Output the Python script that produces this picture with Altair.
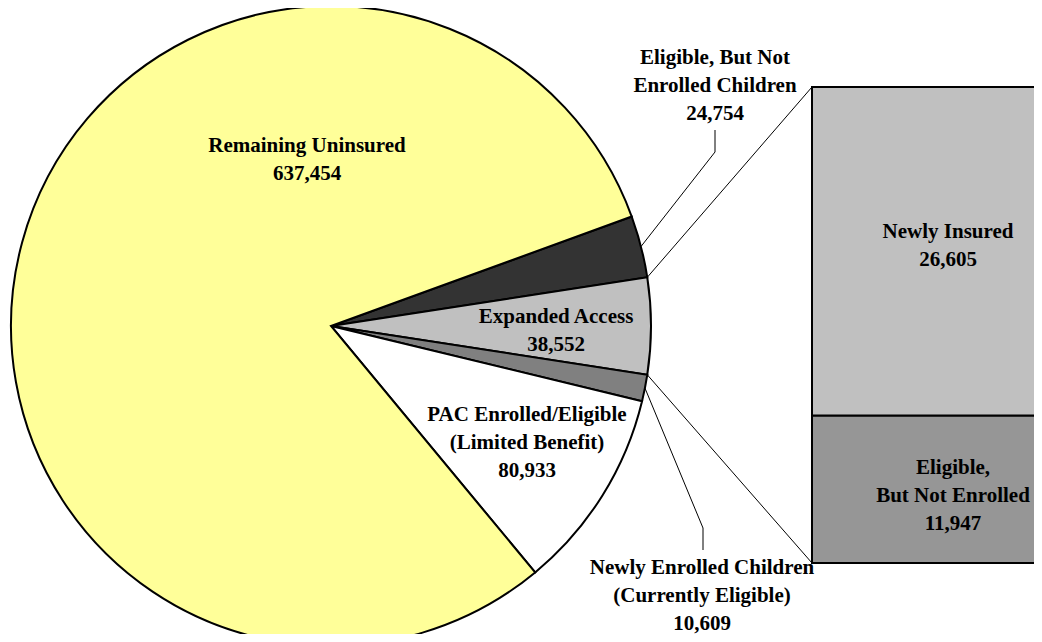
import math
import altair as alt
import pandas as pd

# ---- data ----
pie_labels = [
    "Eligible, But Not Enrolled Children",
    "Expanded Access",
    "Newly Enrolled Children (Currently Eligible)",
    "PAC Enrolled/Eligible (Limited Benefit)",
    "Remaining Uninsured",
]
pie_values = [24754, 38552, 10609, 80933, 637454]
pie_colors = ["#333333", "#C0C0C0", "#808080", "#FFFFFF", "#FFFF99"]

bar_labels = ["Eligible, But Not Enrolled", "Newly Insured"]
bar_values = [11947, 26605]
bar_colors = ["#969696", "#C0C0C0"]

# ---- layout ----
W, H = 1026, 626
CX, CY, R = 323, 318, 320
START = math.radians(70)
BAR_X0, BAR_X1 = 804, 1080
BAR_TOP, BAR_BOT = 79, 555
FONT = "Liberation Serif"
FS = 21
LH = 28

pie_df = pd.DataFrame({"cat": pie_labels, "value": pie_values, "idx": range(len(pie_values))})
bar_df = pd.DataFrame({"cat": bar_labels, "value": bar_values, "idx": range(len(bar_values))})

total = sum(pie_values)
cum = [0]
for v in pie_values:
    cum.append(cum[-1] + v)


def edge_point(frac):
    a = START + 2 * math.pi * frac
    return CX + R * math.sin(a), CY - R * math.cos(a)


pie = alt.Chart(pie_df).mark_arc(radius=R, stroke="black", strokeWidth=2).encode(
    theta=alt.Theta("value:Q", stack=True,
                    scale=alt.Scale(range=[START, START + 2 * math.pi])),
    color=alt.Color("cat:N", scale=alt.Scale(domain=pie_labels, range=pie_colors), legend=None),
    order=alt.Order("idx:Q"),
    x=alt.value(CX),
    y=alt.value(CY),
)

bar = alt.Chart(bar_df).transform_stack(
    stack="value", groupby=[], as_=["y0", "y1"], sort=[alt.SortField("idx", order="ascending")]
).mark_rect(stroke="black", strokeWidth=2).encode(
    y=alt.Y("y0:Q", scale=alt.Scale(domain=[0, sum(bar_values)], range=[BAR_BOT, BAR_TOP]), axis=None),
    y2="y1:Q",
    color=alt.Color("cat:N", scale=alt.Scale(domain=bar_labels, range=bar_colors), legend=None),
    x=alt.value(BAR_X0),
    x2=alt.value(BAR_X1),
)

# connector lines from the Expanded Access slice to the bar corners
ea_i = pie_labels.index("Expanded Access")
p_top = edge_point(cum[ea_i] / total)
p_bot = edge_point(cum[ea_i + 1] / total)
conn_df = pd.DataFrame({
    "x": [p_top[0], p_bot[0]], "y": [p_top[1], p_bot[1]],
    "x2": [BAR_X0, BAR_X0], "y2": [BAR_TOP, BAR_BOT],
})
connectors = alt.Chart(conn_df).mark_rule(color="black", strokeWidth=1).encode(
    x=alt.X("x:Q", scale=None), y=alt.Y("y:Q", scale=None),
    x2="x2:Q", y2="y2:Q",
)


# leader lines for the two small slices
def mid_frac(i):
    return (cum[i] + cum[i + 1]) / 2 / total


a = edge_point(mid_frac(0))
b = edge_point(mid_frac(2))
lead_df = pd.DataFrame({
    "g": ["a", "a", "a", "b", "b", "b"],
    "o": [0, 1, 2, 0, 1, 2],
    "x": [a[0], 707, 707, b[0], 695, 695],
    "y": [a[1], 144, 122, b[1], 520, 542],
})
leaders = alt.Chart(lead_df).mark_line(color="black", strokeWidth=1).encode(
    x=alt.X("x:Q", scale=None), y=alt.Y("y:Q", scale=None),
    detail="g:N", order="o:Q",
)


def fmt(v):
    return f"{v:,}"


def label(lines, x, y):
    return alt.Chart(pd.DataFrame({"t": ["\n".join(lines)]})).mark_text(
        font=FONT, fontSize=FS, fontWeight="bold", color="black",
        lineBreak="\n", lineHeight=LH, align="center", baseline="middle",
    ).encode(text="t:N", x=alt.value(x), y=alt.value(y))


texts = [
    label(["Remaining Uninsured", fmt(pie_values[4])], 299, 138),
    label(["Eligible, But Not", "Enrolled Children", fmt(pie_values[0])], 707, 50),
    label(["Expanded Access", fmt(pie_values[1])], 548, 309),
    label(["PAC Enrolled/Eligible", "(Limited Benefit)", fmt(pie_values[3])], 519, 407),
    label(["Newly Enrolled Children", "(Currently Eligible)", fmt(pie_values[2])], 694, 560),
    label(["Newly Insured", fmt(bar_values[1])], 940, 224),
    label(["Eligible,", "But Not Enrolled", fmt(bar_values[0])], 945, 460),
]

chart = alt.layer(pie, bar, connectors, leaders, *texts).resolve_scale(
    color="independent", theta="independent", y="independent"
).properties(
    width=W, height=H, padding=0, autosize="none"
).configure_view(stroke=None)

chart.save("out.html", embed_options={"renderer": "svg", "actions": False})
